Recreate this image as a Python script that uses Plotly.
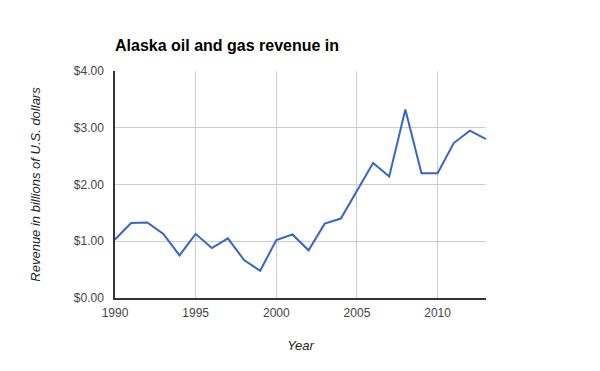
import plotly.graph_objects as go

years = list(range(1990, 2014))
revenue = [1.03, 1.32, 1.33, 1.13, 0.75, 1.13, 0.88, 1.05, 0.67, 0.48, 1.02, 1.12,
           0.84, 1.31, 1.40, 1.90, 2.38, 2.14, 3.32, 2.20, 2.20, 2.73, 2.95, 2.80]
y_ticks = [0, 1, 2, 3, 4]
y_labels = ["$0.00", "$1.00", "$2.00", "$3.00", "$4.00"]
x_ticks = [1990, 1995, 2000, 2005, 2010]

font = "Liberation Sans, Arial, sans-serif"

fig = go.Figure()
fig.add_trace(go.Scatter(x=years, y=revenue, mode="lines",
                         line=dict(color="#3366cc", width=2), hoverinfo="x+y"))

fig.update_layout(
    width=600, height=371,
    margin=dict(l=115, r=114, t=71, b=73),
    paper_bgcolor="white", plot_bgcolor="white",
    showlegend=False,
    font=dict(family=font, size=12, color="#444444"),
    title=dict(text="<b>Alaska oil and gas revenue in</b>", x=115/600, xanchor="left",
               y=1 - 45/371, yanchor="middle",
               font=dict(family=font, size=16, color="#000000")),
    xaxis=dict(range=[1990, 2013], tickvals=x_ticks, showgrid=True, gridcolor="#cccccc",
               gridwidth=1, zeroline=False, showline=True, linecolor="#333333", linewidth=1.5,
               ticks="", ticklabelstandoff=3, tickfont=dict(size=12, color="#444444"),
               title=dict(text="<i>Year</i>", font=dict(size=13, color="#222222"), standoff=22)),
    yaxis=dict(range=[0, 4], tickvals=y_ticks, ticktext=y_labels, showgrid=True,
               gridcolor="#cccccc", gridwidth=1, zeroline=False, showline=True,
               linecolor="#333333", linewidth=1.5, ticks="", ticklabelstandoff=7,
               tickfont=dict(size=12, color="#444444"),
               title=dict(text="<i>Revenue in billions of U.S. dollars</i>",
                          font=dict(size=13, color="#222222"), standoff=30)),
)

fig.write_html("out.html")
